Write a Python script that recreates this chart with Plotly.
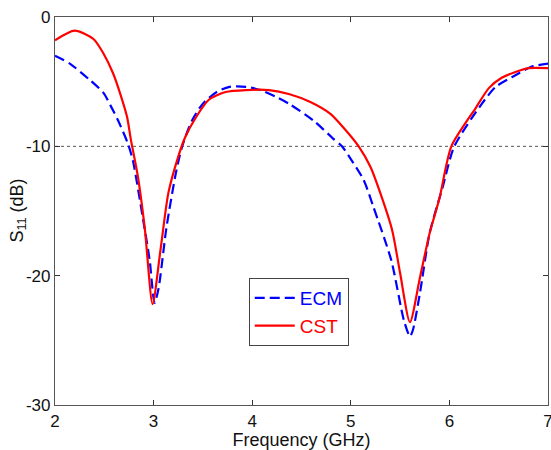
import plotly.graph_objects as go

ecm_freq = [2.0, 2.15, 2.35, 2.49, 2.57, 2.64, 2.74, 2.79, 2.89, 2.96, 3.01, 3.05, 3.13, 3.23, 3.29, 3.39, 3.50,
            3.64, 3.77, 3.94, 4.08, 4.25, 4.38, 4.62, 4.82, 4.91, 5.01, 5.13, 5.23, 5.41, 5.54, 5.60,
            5.63, 5.70, 5.80, 5.93, 6.05, 6.33, 6.47, 6.67, 6.83, 7.0]
ecm_s11 = [-3.0, -3.6, -4.85, -5.85, -6.95, -8.0, -9.8, -11.1, -15.5, -18.8, -22.1, -21.0, -16.3, -11.9, -10.0, -8.0, -6.7,
           -5.8, -5.4, -5.4, -5.65, -6.2, -6.74, -8.0, -9.4, -10.0, -11.1, -12.6, -14.7, -18.8, -23.5, -24.7,
           -24.2, -21.4, -16.7, -13.2, -10.0, -6.7, -5.4, -4.5, -3.85, -3.6]

cst_freq = [2.0, 2.20, 2.39, 2.49, 2.59, 2.66, 2.73, 2.77, 2.84, 2.91, 2.99, 3.07, 3.15, 3.25, 3.32, 3.43,
            3.56, 3.73, 3.94, 4.17, 4.38, 4.59, 4.79, 4.92, 5.08, 5.20, 5.28, 5.42, 5.50, 5.60,
            5.70, 5.80, 5.90, 6.02, 6.27, 6.40, 6.53, 6.67, 6.80, 7.0]
cst_s11 = [-1.8, -1.06, -1.7, -2.8, -4.37, -5.9, -7.7, -9.5, -12.3, -16.3, -22.2, -18.0, -13.6, -10.8, -9.3, -7.75,
           -6.4, -5.8, -5.65, -5.65, -5.97, -6.57, -7.47, -8.5, -10.0, -11.6, -13.2, -16.5, -19.8, -23.6,
           -20.2, -16.7, -14.0, -10.0, -7.0, -5.5, -4.7, -4.25, -3.95, -3.95]

x_ticks = [2, 3, 4, 5, 6, 7]
x_tick_labels = ["2", "3", "4", "5", "6", "7"]
y_ticks = [0, -10, -20, -30]
y_tick_labels = ["0", "-10", "-20", "-30"]
threshold = -10

FONT = "Liberation Sans, Arial, sans-serif"

fig = go.Figure()
fig.add_trace(go.Scatter(x=ecm_freq, y=ecm_s11, mode="lines",
                         name='<span style="color:#0000ff">ECM</span>',
                         line=dict(color="#0000ff", width=2.2, dash="10px,5px",
                                   shape="spline", smoothing=0.7)))
fig.add_trace(go.Scatter(x=cst_freq, y=cst_s11, mode="lines",
                         name='<span style="color:#ff0000">CST</span>',
                         line=dict(color="#ff0000", width=2.2, shape="spline", smoothing=0.7)))

fig.add_hline(y=threshold, line=dict(color="#555555", width=1, dash="dot"), layer="below")

axis_common = dict(showline=True, linecolor="#555555", linewidth=1.2, mirror="ticks",
                   ticks="inside", ticklen=5, tickcolor="#333333", showgrid=False,
                   zeroline=False, automargin=False, ticklabeloverflow="allow",
                   tickfont=dict(family=FONT, size=17, color="#111111"))

fig.update_xaxes(range=[2, 7], tickvals=x_ticks, ticktext=x_tick_labels, **axis_common,
                 title=dict(text="Frequency (GHz)", font=dict(family=FONT, size=18, color="#111111"),
                            standoff=4))
fig.update_yaxes(range=[-30, 0], tickvals=y_ticks, ticktext=y_tick_labels, **axis_common)

fig.add_annotation(text="S<sub>11</sub> (dB)", xref="paper", yref="paper",
                   x=-0.076, y=0.5, xanchor="center", yanchor="middle",
                   textangle=-90, showarrow=False,
                   font=dict(family=FONT, size=18, color="#111111"))

fig.update_layout(
    width=551, height=450,
    margin=dict(l=55, r=3, t=17, b=45),
    paper_bgcolor="white", plot_bgcolor="white",
    showlegend=True,
    legend=dict(x=0.393, y=0.327, xanchor="left", yanchor="top",
                bordercolor="#444444", borderwidth=1, bgcolor="white",
                font=dict(family=FONT, size=19),
                tracegroupgap=0, itemwidth=40),
)

fig.write_html("out.html", config={"displayModeBar": False},
               post_script="document.body.style.margin='0px';")
